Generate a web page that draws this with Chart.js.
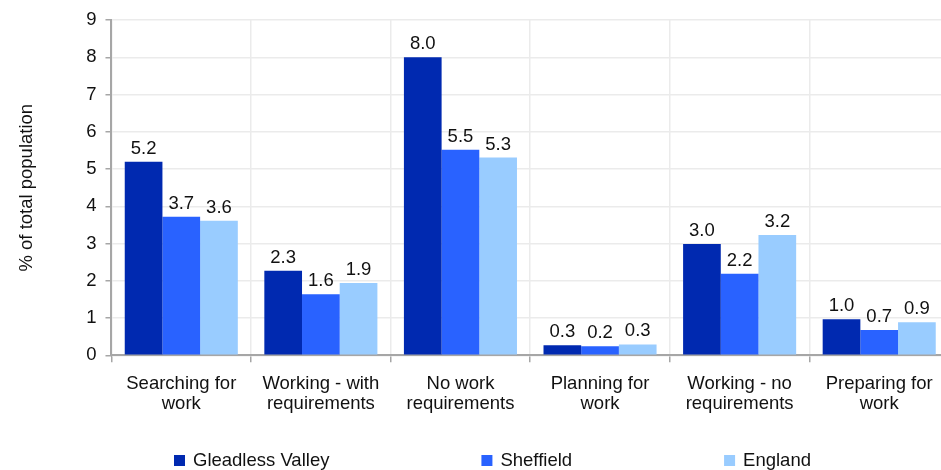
<!DOCTYPE html>
<html>
<head>
<meta charset="utf-8">
<script src="https://cdn.jsdelivr.net/npm/chart.js@4/dist/chart.umd.min.js"></script>
<style>
html,body{margin:0;padding:0;background:#fff;overflow:hidden;}
#wrap{width:941px;height:470px;position:relative;overflow:hidden;}
canvas{display:block;}
</style>
</head>
<body>
<div id="wrap"><canvas id="c" width="949" height="470"></canvas></div>
<script>
const categories = [
  ["Searching for", "work"],
  ["Working - with", "requirements"],
  ["No work", "requirements"],
  ["Planning for", "work"],
  ["Working - no", "requirements"],
  ["Preparing for", "work"]
];
const seriesNames = ["Gleadless Valley", "Sheffield", "England"];
const gleadlessValley = [5.2, 2.27, 8.0, 0.27, 2.99, 0.97];
const sheffield = [3.72, 1.64, 5.52, 0.24, 2.19, 0.68];
const england = [3.61, 1.94, 5.31, 0.29, 3.23, 0.89];
const yTicks = [0, 1, 2, 3, 4, 5, 6, 7, 8, 9];
const colors = ["#0029B0", "#2962FF", "#99CCFF"];

const FONT = "'Liberation Sans', Arial, sans-serif";
const FS = 18.5;

const valueLabels = {
  id: 'valueLabels',
  afterDatasetsDraw(chart) {
    const ctx = chart.ctx;
    ctx.save();
    ctx.font = FS + "px " + FONT;
    ctx.fillStyle = "#111";
    ctx.textAlign = "center";
    ctx.textBaseline = "alphabetic";
    chart.data.datasets.forEach((ds, i) => {
      const meta = chart.getDatasetMeta(i);
      meta.data.forEach((bar, j) => {
        ctx.fillText(ds.data[j].toFixed(1), bar.x, bar.y - 8);
      });
    });
    ctx.restore();
  }
};

const bottomLegend = {
  id: 'bottomLegend',
  afterDraw(chart) {
    const ctx = chart.ctx;
    ctx.save();
    ctx.font = FS + "px " + FONT;
    ctx.textBaseline = "middle";
    ctx.textAlign = "left";
    let x = 174;
    const y = 460.5;
    chart.data.datasets.forEach((ds, i) => {
      ctx.fillStyle = ds.backgroundColor;
      ctx.fillRect(x, y - 5.5, 11, 11);
      ctx.fillStyle = "#111";
      ctx.fillText(ds.label, x + 19, y);
      x += 19 + ctx.measureText(ds.label).width + 152;
    });
    ctx.restore();
  }
};

new Chart(document.getElementById('c'), {
  type: 'bar',
  data: {
    labels: categories,
    datasets: [
      { label: seriesNames[0], data: gleadlessValley, backgroundColor: colors[0] },
      { label: seriesNames[1], data: sheffield, backgroundColor: colors[1] },
      { label: seriesNames[2], data: england, backgroundColor: colors[2] }
    ]
  },
  options: {
    responsive: false,
    animation: false,
    devicePixelRatio: 1,
    layout: { padding: { left: 10, top: 16, right: 0, bottom: 45 } },
    datasets: { bar: { categoryPercentage: 0.81, barPercentage: 1.0 } },
    plugins: {
      legend: { display: false },
      tooltip: { enabled: false }
    },
    scales: {
      x: {
        grid: {
          offset: true,
          color: '#ebebeb',
          lineWidth: 1.5,
          tickColor: '#a6a6a6',
          tickLength: 7,
          drawTicks: true
        },
        border: { color: '#a6a6a6', width: 2 },
        ticks: {
          color: '#111',
          padding: 11,
          maxRotation: 0,
          autoSkip: false,
          font: { family: FONT, size: FS, lineHeight: 1.1 }
        }
      },
      y: {
        min: 0,
        max: 9,
        afterBuildTicks(scale) { scale.ticks = yTicks.map(v => ({ value: v })); },
        grid: {
          color: '#ebebeb',
          lineWidth: 1.5,
          tickColor: '#a6a6a6',
          tickLength: 6
        },
        border: { color: '#a6a6a6', width: 2 },
        ticks: {
          color: '#111',
          padding: 9,
          font: { family: FONT, size: FS }
        },
        title: {
          display: true,
          text: '% of total population',
          color: '#111',
          padding: { top: 6, bottom: 39 },
          font: { family: FONT, size: FS }
        }
      }
    }
  },
  plugins: [valueLabels, bottomLegend]
});
</script>
</body>
</html>
